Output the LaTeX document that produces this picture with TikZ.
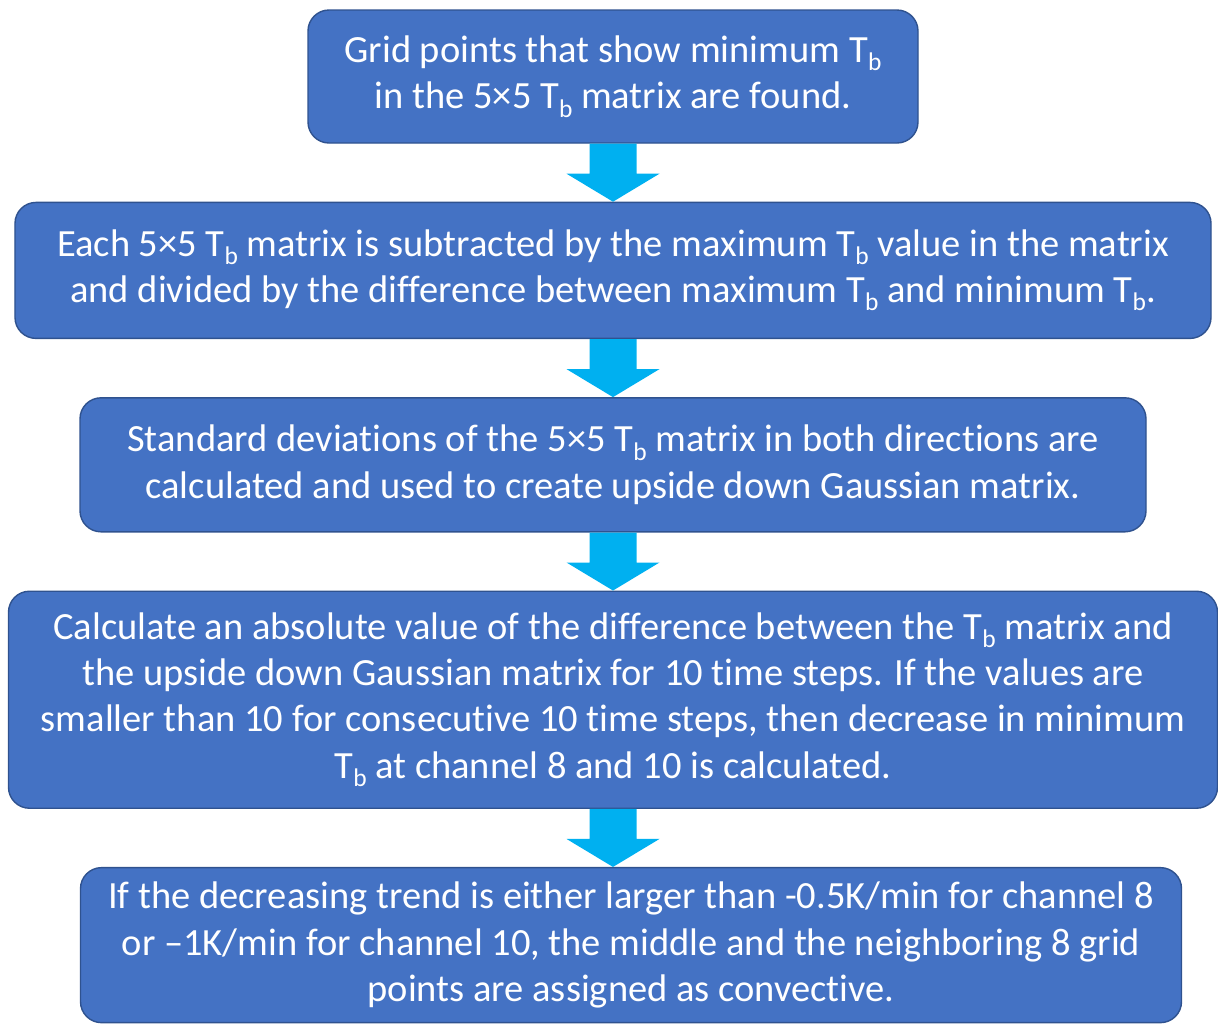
\documentclass[tikz,border=0pt]{standalone}
\usepackage{fontspec}
\setmainfont{Carlito}[Ligatures=NoCommon,Contextuals=NoAlternate]
\usetikzlibrary{positioning,calc}
\definecolor{BoxBlue}{RGB}{68,114,196}
\definecolor{BoxEdge}{RGB}{47,82,143}
\definecolor{ArrowBlue}{RGB}{0,176,240}
\newcommand{\Tb}{T\raisebox{-0.45ex}{\fontsize{14.5}{14.5}\selectfont b}}
\tikzset{
  stepbox/.style={draw=BoxEdge,line width=0.8pt,fill=BoxBlue,rounded corners=0.42cm,text=white,align=center,font=\fontsize{21.9}{26.3}\selectfont,inner sep=0pt},
  blockarrow/.style={fill=ArrowBlue,draw=none}
}
\begin{document}
\begin{tikzpicture}[node distance=1.16cm]
\useasboundingbox (0,0) rectangle (24.36,-20.48);
\node[stepbox,minimum width=12.2cm,minimum height=2.66cm] (find) at (12.26,-1.53) {Grid points that show minimum \Tb\\in the 5×5 \Tb{} matrix are found.};
\node[stepbox,minimum width=23.92cm,minimum height=2.72cm,below=of find] (norm) {Each 5×5 \Tb{} matrix is subtracted by the maximum \Tb{} value in the matrix\\and divided by the difference between maximum \Tb{} and minimum \Tb.};
\node[stepbox,minimum width=21.32cm,minimum height=2.68cm,below=of norm] (gauss) {Standard deviations of the 5×5 \Tb{} matrix in both directions are\\calculated and used to create upside down Gaussian matrix.};
\node[stepbox,minimum width=24.18cm,minimum height=4.34cm,below=of gauss] (diff) {Calculate an absolute value of the difference between the \Tb{} matrix and\\the upside down Gaussian matrix for 10 time steps. If the values are\\smaller than 10 for consecutive 10 time steps, then decrease in minimum\\\Tb{} at channel 8 and 10 is calculated.};
\node[stepbox,minimum width=22.02cm,minimum height=3.1cm,below=of diff,xshift=0.36cm] (conv) {If the decreasing trend is either larger than -0.5K/min for channel 8\\or –1K/min for channel 10, the middle and the neighboring 8 grid\\points are assigned as convective.};
% block arrows between the steps
\foreach \a/\b in {find/norm,norm/gauss,gauss/diff,diff/conv}{
  \fill[blockarrow] ($(\a.south)+(-0.47,0)$) -- ($(\a.south)+(0.47,0)$)
    -- ($(\a.south |- \b.north)+(0.47,0.56)$) -- ($(\a.south |- \b.north)+(0.93,0.56)$)
    -- (\a.south |- \b.north)
    -- ($(\a.south |- \b.north)+(-0.93,0.56)$) -- ($(\a.south |- \b.north)+(-0.47,0.56)$) -- cycle;
}
\end{tikzpicture}
\end{document}
